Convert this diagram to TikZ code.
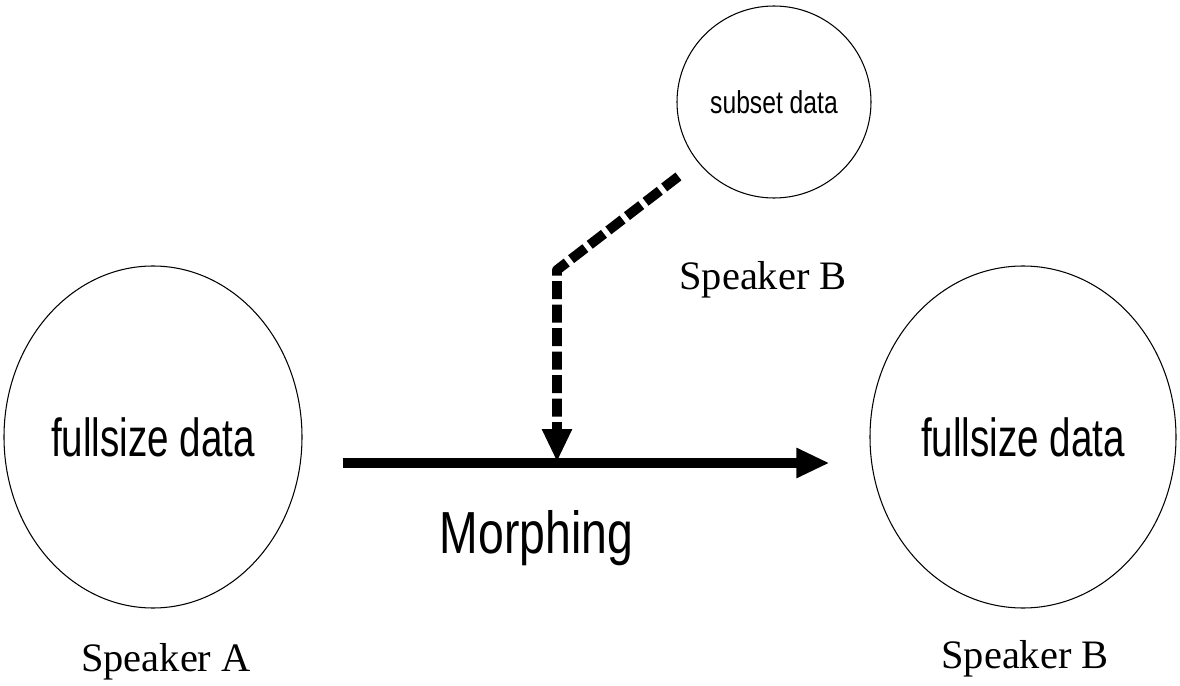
\documentclass[tikz,border=0pt]{standalone}
\usepackage{fontspec}
\setmainfont{Liberation Serif}
\newfontfamily\narrowsans[FakeStretch=0.78]{Liberation Sans}
\newfontfamily\slimsans[FakeStretch=0.72]{Liberation Sans}
\usetikzlibrary{shapes.geometric}
\usetikzlibrary{arrows.meta}
\usetikzlibrary{calc}

\begin{document}
\begin{tikzpicture}[
    datacircle/.style={draw, ellipse, line width=0.6pt, inner sep=0pt},
    bigtext/.style={font=\slimsans\fontsize{30.5}{32}\selectfont},
    speaker/.style={font=\fontsize{23}{25}\selectfont, anchor=base},
    bigarrow/.style={line width=5.7pt, -{Triangle[length=0.66cm, width=0.56cm]}},
    dasharrow/.style={line width=5.6pt, line join=round, dash pattern=on 0.36cm off 0.11cm,
                      -{Triangle[length=0.66cm, width=0.56cm]}}]

    \useasboundingbox (0,0) rectangle (23.6,13.7);

    % the two full data sets
    \node[datacircle, bigtext, minimum width=5.96cm, minimum height=6.84cm] (A) at (3.06,4.96) {fullsize data};
    \node[datacircle, bigtext, minimum width=6.12cm, minimum height=6.84cm] (B) at (20.46,4.96) {fullsize data};

    % the small set
    \node[datacircle, font=\narrowsans\fontsize{18}{20}\selectfont,
          minimum width=3.88cm, minimum height=3.84cm] (S) at (15.48,11.66) {subset data};

    \node[speaker] (spkA) at (3.32,0.28) {Speaker A};
    \node[speaker] (spkB) at (20.50,0.34) {Speaker B};
    \node[speaker] (spkS) at (15.26,7.90) {Speaker B};

    \draw[bigarrow, shorten <=0.8cm, shorten >=0.8cm] ([yshift=-0.52cm]A.east) -- ([yshift=-0.52cm]B.west);
    \node[font=\narrowsans\fontsize{33.8}{36}\selectfont, anchor=base] (morph) at (10.73,2.64) {Morphing};

    \coordinate (bend) at (11.14,8.30);
    \coordinate (join) at (11.14,4.46);
    \draw[dasharrow, shorten <=0.48cm] (S.218) -- (bend) -- (join);

\end{tikzpicture}
\end{document}
